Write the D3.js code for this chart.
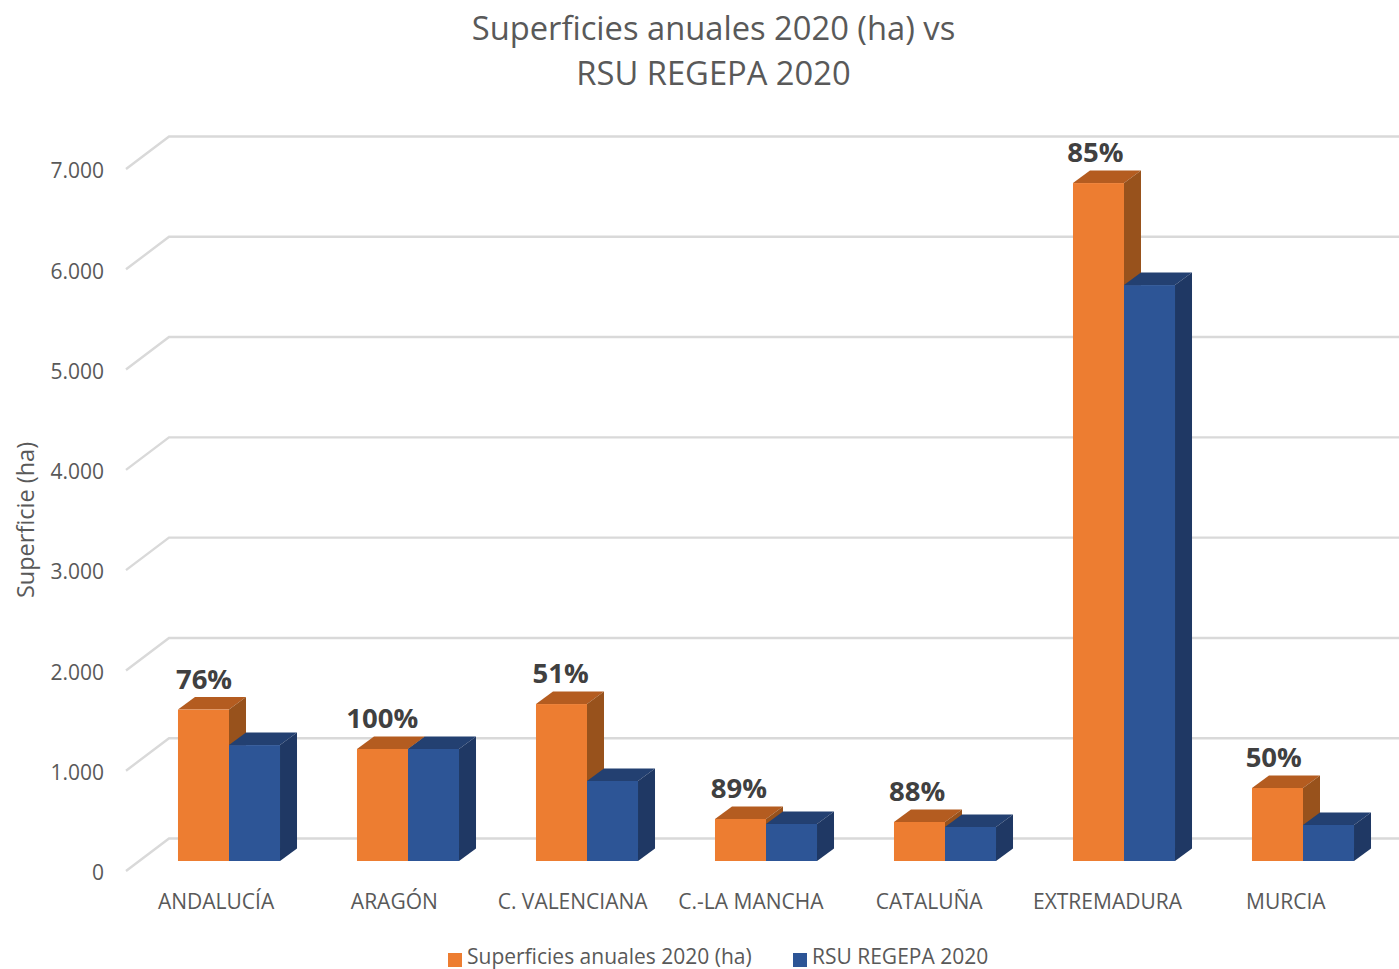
<!DOCTYPE html>
<html lang="es">
<head>
<meta charset="utf-8">
<script src="https://cdnjs.cloudflare.com/ajax/libs/d3/7.8.5/d3.min.js"></script>
<style>
  html, body { margin: 0; background: #fff; overflow: hidden; }
  text { font-family: "Open Sans", sans-serif; fill: #595959; }
</style>
</head>
<body>
<svg id="chart" width="1399" height="969"></svg>
<script>
const categories = ["ANDALUCÍA", "ARAGÓN", "C. VALENCIANA", "C.-LA MANCHA", "CATALUÑA", "EXTREMADURA", "MURCIA"];
const superficies = [1510, 1117, 1565, 419, 389, 6760, 728];
const rsuRegepa = [1156, 1117, 798, 369, 339, 5743, 359];
const percentLabels = ["76%", "100%", "51%", "89%", "88%", "85%", "50%"];
const yTicks = [0, 1000, 2000, 3000, 4000, 5000, 6000, 7000];
const titleLines = ["Superficies anuales 2020 (ha) vs", "RSU REGEPA 2020"];
const seriesNames = ["Superficies anuales 2020 (ha)", "RSU REGEPA 2020"];

const svg = d3.select("#chart");

const x = d3.scaleBand()
  .domain(categories)
  .range([139.5, 1392.5])
  .paddingInner(0.43)
  .paddingOuter(0.215);

// labels sit on the front plane, so their spacing is a bit tighter than the bars
const xLabel = d3.scaleBand()
  .domain(categories)
  .range([126.9, 1374.9]);

const y = d3.scaleLinear()
  .domain([0, 7000])
  .range([861, 159]);

const barWidth = x.bandwidth() / 2;
const depthX = 17, depthY = 12.5;

const esLocale = d3.formatLocale({ decimal: ",", thousands: ".", grouping: [3], currency: ["", "€"] });

// Gridlines: a diagonal on the side wall, then the back wall
const grid = svg.append("g")
  .attr("fill", "none")
  .attr("stroke", "#d9d9d9")
  .attr("stroke-width", 2.4);

grid.selectAll("path")
  .data(yTicks)
  .enter()
  .append("path")
  .attr("d", d => `M126,${y(d) + 10}L169,${y(d) - 22.5}H1399`);

// Axes
const yAxis = svg.append("g")
  .attr("transform", "translate(104,12)")
  .call(d3.axisLeft(y).tickValues(yTicks).tickSize(0).tickPadding(0).tickFormat(esLocale.format(",d")));
yAxis.select(".domain").remove();
yAxis.selectAll("text").style("font-size", "21px").style("font-family", "'Open Sans', sans-serif");

const xAxis = svg.append("g")
  .attr("transform", "translate(0,894)")
  .call(d3.axisBottom(xLabel).tickSize(0).tickPadding(0));
xAxis.select(".domain").remove();
xAxis.selectAll("text").style("font-size", "21px").style("font-family", "'Open Sans', sans-serif");

svg.append("text")
  .attr("transform", "translate(34,520) rotate(-90)")
  .attr("text-anchor", "middle")
  .style("font-size", "23.5px")
  .text("Superficie (ha)");

// 3D bars
function drawSeries(values, offset, front, top, side) {
  const g = svg.append("g");
  categories.forEach((c, i) => {
    const x0 = x(c) + offset * barWidth;
    const x1 = x0 + barWidth;
    const y0 = y(0);
    const y1 = y(values[i]);
    g.append("path").attr("fill", top)
      .attr("d", `M${x0},${y1}L${x0 + depthX},${y1 - depthY}H${x1 + depthX}L${x1},${y1}Z`);
    g.append("path").attr("fill", side)
      .attr("d", `M${x1},${y1}L${x1 + depthX},${y1 - depthY}V${y0 - depthY}L${x1},${y0}Z`);
    g.append("rect").attr("fill", front)
      .attr("x", x0).attr("y", y1)
      .attr("width", barWidth).attr("height", y0 - y1);
  });
}

drawSeries(superficies, 0, "#ed7d31", "#b45c20", "#98521c");
drawSeries(rsuRegepa, 1, "#2d5596", "#234071", "#1f3864");

// Percent labels above the orange bars
svg.append("g")
  .selectAll("text")
  .data(categories)
  .enter()
  .append("text")
  .attr("x", d => xLabel(d) + xLabel.bandwidth() / 2 - 12)
  .attr("y", (d, i) => y(superficies[i]) - 21)
  .attr("text-anchor", "middle")
  .style("font-size", "27.5px")
  .style("font-weight", 700)
  .style("fill", "#404040")
  .text((d, i) => percentLabels[i]);

// Title
svg.append("g")
  .selectAll("text")
  .data(titleLines)
  .enter()
  .append("text")
  .attr("x", 713.5)
  .attr("y", (d, i) => 40 + i * 44.5)
  .attr("text-anchor", "middle")
  .style("font-size", "32.7px")
  .text(d => d);

// Legend
const legend = svg.append("g");
const legendColors = ["#ed7d31", "#2d5596"];
const legendX = [448, 793];
seriesNames.forEach((name, i) => {
  legend.append("rect")
    .attr("x", legendX[i]).attr("y", 953)
    .attr("width", 14).attr("height", 14)
    .attr("fill", legendColors[i]);
  legend.append("text")
    .attr("x", legendX[i] + 19).attr("y", 964)
    .style("font-size", "21px")
    .text(name);
});
</script>
</body>
</html>
